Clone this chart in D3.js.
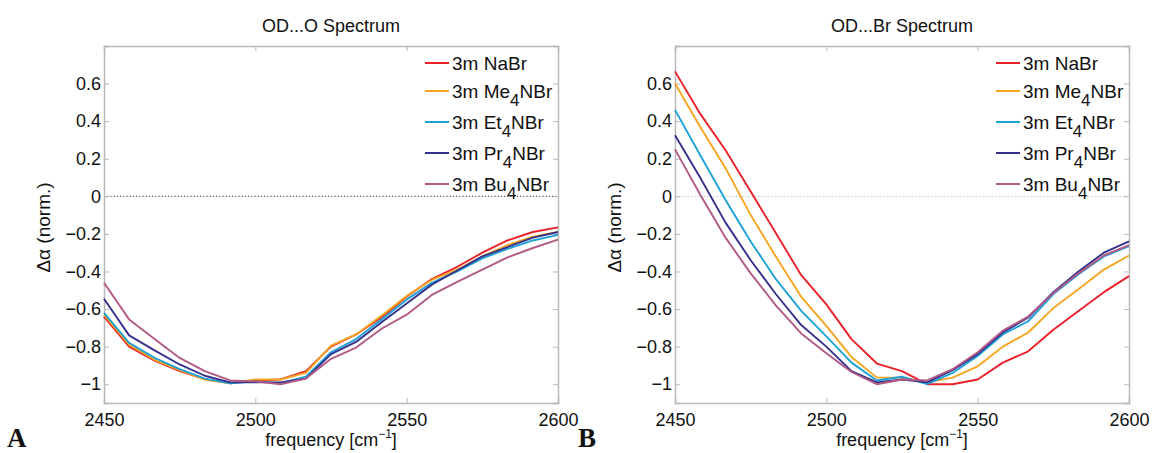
<!DOCTYPE html>
<html>
<head>
<meta charset="utf-8">
<script src="https://cdn.jsdelivr.net/npm/d3@7"></script>
<style>
  html, body { margin: 0; padding: 0; background: #fff; }
  svg { display: block; font-family: "Liberation Sans", Arial, sans-serif; }
</style>
</head>
<body>
<svg id="chart" width="1153" height="453"></svg>
<script>
// ---- data ----
const frequencies = [2450, 2458.3, 2466.7, 2475, 2483.3, 2491.7, 2500, 2508.3, 2516.7, 2525, 2533.3, 2541.7, 2550, 2558.3, 2566.7, 2575, 2583.3, 2591.7, 2600];

const seriesNames = ["NaBr", "Me4NBr", "Et4NBr", "Pr4NBr", "Bu4NBr"];
const seriesColors = ["#ea2128", "#f7a520", "#1ca2d8", "#34318c", "#b25a84"];

// OD...O spectrum
const odO_NaBr  = [-0.64, -0.80, -0.875, -0.93, -0.973, -0.995, -0.98, -0.975, -0.93, -0.80, -0.735, -0.645, -0.535, -0.44, -0.375, -0.30, -0.235, -0.19, -0.165];
const odO_Me4   = [-0.63, -0.79, -0.87, -0.925, -0.975, -0.995, -0.975, -0.975, -0.94, -0.795, -0.735, -0.635, -0.53, -0.445, -0.39, -0.32, -0.26, -0.215, -0.19];
const odO_Et4   = [-0.62, -0.78, -0.86, -0.92, -0.97, -0.995, -0.985, -0.995, -0.96, -0.83, -0.76, -0.655, -0.55, -0.46, -0.40, -0.33, -0.28, -0.235, -0.205];
const odO_Pr4   = [-0.545, -0.74, -0.82, -0.895, -0.955, -0.99, -0.99, -0.99, -0.97, -0.84, -0.775, -0.67, -0.57, -0.47, -0.395, -0.32, -0.27, -0.22, -0.19];
const odO_Bu4   = [-0.46, -0.655, -0.76, -0.86, -0.93, -0.98, -0.985, -1.0, -0.97, -0.865, -0.805, -0.705, -0.63, -0.525, -0.455, -0.39, -0.325, -0.275, -0.23];

// OD...Br spectrum
const odBr_NaBr = [0.665, 0.44, 0.245, 0.025, -0.195, -0.42, -0.575, -0.76, -0.89, -0.93, -1.0, -1.0, -0.975, -0.885, -0.825, -0.71, -0.61, -0.51, -0.425];
const odBr_Me4  = [0.60, 0.37, 0.15, -0.10, -0.32, -0.535, -0.69, -0.855, -0.965, -0.965, -0.99, -0.965, -0.905, -0.80, -0.725, -0.595, -0.495, -0.39, -0.315];
const odBr_Et4  = [0.46, 0.22, -0.02, -0.24, -0.44, -0.61, -0.745, -0.885, -0.98, -0.96, -1.0, -0.94, -0.85, -0.735, -0.665, -0.52, -0.415, -0.32, -0.265];
const odBr_Pr4  = [0.325, 0.10, -0.14, -0.34, -0.52, -0.685, -0.80, -0.93, -0.99, -0.975, -0.99, -0.925, -0.84, -0.725, -0.645, -0.51, -0.40, -0.30, -0.24];
const odBr_Bu4  = [0.25, 0.01, -0.22, -0.41, -0.58, -0.73, -0.835, -0.935, -1.0, -0.975, -0.98, -0.92, -0.83, -0.715, -0.64, -0.515, -0.41, -0.315, -0.26];

const xTicks = [2450, 2500, 2550, 2600];
const yTicks = [-1, -0.8, -0.6, -0.4, -0.2, 0, 0.2, 0.4, 0.6];
const xDomain = [2450, 2600];
const yDomain = [-1.1, 0.8];

const panels = [
  { title: "OD...O Spectrum", letter: "A", left: 104, right: 558, zeroColor: "#333",
    series: [odO_NaBr, odO_Me4, odO_Et4, odO_Pr4, odO_Bu4] },
  { title: "OD...Br Spectrum", letter: "B", left: 675, right: 1129, zeroColor: "#bbb",
    series: [odBr_NaBr, odBr_Me4, odBr_Et4, odBr_Pr4, odBr_Bu4] }
];

const svg = d3.select("#chart");
const plotTop = 46, plotBottom = 403;
const boxColor = "#b8b8b8";
const tickLen = 5;
const FONT = "'Liberation Sans', Arial, sans-serif";

function yFmt(v) {
  if (v === 0) return "0";
  if (v === -1) return "\u22121";
  const s = d3.format(".1f")(Math.abs(v));
  return (v < 0 ? "\u2212" : "") + s;
}

panels.forEach(p => {
  const x = d3.scaleLinear().domain(xDomain).range([p.left, p.right]);
  const y = d3.scaleLinear().domain(yDomain).range([plotBottom, plotTop]);
  const g = svg.append("g");

  // zero line
  g.append("line")
    .attr("x1", x(xDomain[0])).attr("x2", x(xDomain[1]))
    .attr("y1", y(0)).attr("y2", y(0))
    .attr("stroke", p.zeroColor).attr("stroke-width", 1)
    .attr("stroke-dasharray", "1.2,2");

  // axes (inward ticks on all four sides)
  const axB = g.append("g").attr("transform", `translate(0,${plotBottom})`)
    .call(d3.axisBottom(x).tickValues(xTicks).tickSize(-tickLen).tickPadding(10).tickFormat(d3.format("d")));
  const axT = g.append("g").attr("transform", `translate(0,${plotTop})`)
    .call(d3.axisTop(x).tickValues(xTicks).tickSize(-tickLen).tickFormat(""));
  const axL = g.append("g").attr("transform", `translate(${p.left},0)`)
    .call(d3.axisLeft(y).tickValues(yTicks).tickSize(-tickLen).tickPadding(3).tickFormat(yFmt));
  const axR = g.append("g").attr("transform", `translate(${p.right},0)`)
    .call(d3.axisRight(y).tickValues(yTicks).tickSize(-tickLen).tickFormat(""));
  [axB, axT, axL, axR].forEach(a => {
    a.select(".domain").attr("stroke", boxColor).attr("stroke-width", 1.5);
    a.selectAll(".tick line").attr("stroke", boxColor).attr("stroke-width", 1);
    a.selectAll(".tick text").attr("fill", "#111").style("font-size", "18px")
      .style("font-family", FONT);
  });
  axB.selectAll(".tick text").attr("dy", "0.71em");
  axT.selectAll(".tick").filter((d, i) => i === 0 || i === xTicks.length - 1).select("line").remove();
  axB.selectAll(".tick").filter((d, i) => i === 0 || i === xTicks.length - 1).select("line").remove();

  // lines
  const line = d3.line().x((d, i) => x(frequencies[i])).y(d => y(d));
  p.series.forEach((vals, si) => {
    g.append("path").datum(vals)
      .attr("d", line)
      .attr("fill", "none")
      .attr("stroke", seriesColors[si])
      .attr("stroke-width", 1.9)
      .attr("stroke-linejoin", "round");
  });

  // title
  g.append("text").attr("x", (p.left + p.right) / 2).attr("y", 32)
    .attr("text-anchor", "middle").style("font-size", "18px").attr("fill", "#111")
    .text(p.title);

  // y label
  g.append("text")
    .attr("transform", `translate(${p.left - 54},${(plotTop + plotBottom) / 2 + 3}) rotate(-90)`)
    .attr("text-anchor", "middle").style("font-size", "19px").attr("fill", "#111")
    .text("\u0394\u03b1 (norm.)");

  // x label
  const xl = g.append("text").attr("x", (p.left + p.right) / 2).attr("y", 446)
    .attr("text-anchor", "middle").style("font-size", "18px").attr("fill", "#111");
  xl.append("tspan").text("frequency [cm");
  xl.append("tspan").attr("dy", -8).style("font-size", "12px").text("\u22121");
  xl.append("tspan").attr("dy", 8).text("]");

  // panel letter
  g.append("text").attr("x", p.left - 97).attr("y", 447)
    .style("font-family", "'Liberation Serif', 'Times New Roman', serif")
    .style("font-weight", "bold").style("font-size", "27px").attr("fill", "#111")
    .text(p.letter);

  // legend
  const legY = [63, 91, 122, 153, 184];
  const legX0 = p.right - 133;
  seriesNames.forEach((name, si) => {
    const ly = legY[si];
    g.append("line").attr("x1", legX0).attr("x2", legX0 + 24)
      .attr("y1", ly).attr("y2", ly)
      .attr("stroke", seriesColors[si]).attr("stroke-width", 2);
    const t = g.append("text").attr("x", legX0 + 27).attr("y", ly + 7)
      .style("font-size", "19px").attr("fill", "#111");
    if (name === "NaBr") {
      t.text("3m NaBr");
    } else {
      t.append("tspan").text("3m " + name.slice(0, 2));
      t.append("tspan").attr("dy", 8).style("font-size", "17px").text("4");
      t.append("tspan").attr("dy", -8).text("NBr");
    }
  });
});
</script>
</body>
</html>
